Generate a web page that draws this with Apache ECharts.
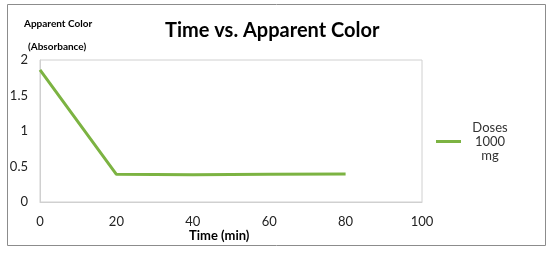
<!DOCTYPE html>
<html>
<head>
<meta charset="utf-8">
<script src="https://cdn.jsdelivr.net/npm/echarts@6/dist/echarts.min.js"></script>
<style>
  html, body { margin: 0; padding: 0; background: #fff; }
  #chart { width: 550px; height: 253px; }
</style>
</head>
<body>
<div id="chart"></div>
<script>
// data
const timeMin = [0, 20, 40, 60, 80];
const absorbance = [1.86, 0.39, 0.385, 0.39, 0.395];
const seriesName = 'Doses 1000 mg';

const myChart = echarts.init(document.getElementById('chart'));
const font = 'Lato, "Open Sans", sans-serif';

const option = {
  animation: false,
  textStyle: { fontFamily: font },
  graphic: [
    {
      type: 'rect',
      shape: { x: 7.5, y: 4.5, width: 538, height: 241 },
      style: { fill: 'none', stroke: '#8c8c8c', lineWidth: 1 }
    },
    {
      type: 'text', left: 24, top: 19,
      style: { text: 'Apparent Color', font: 'bold 10px ' + font, fill: '#000' }
    },
    {
      type: 'text', left: 28, top: 42,
      style: { text: '(Absorbance)', font: 'bold 10px ' + font, fill: '#000' }
    },
    {
      type: 'text', left: 189, top: 229,
      style: { text: 'Time (min)', font: 'bold 13px ' + font, fill: '#000' }
    }
  ],
  title: {
    text: 'Time vs. Apparent Color',
    left: 160, top: 16,
    textStyle: { fontSize: 20, fontWeight: 'bold', color: '#000', fontFamily: font }
  },
  grid: {
    left: 40, right: 128, top: 60, bottom: 51,
    outerBoundsMode: 'none',
    show: true, borderColor: '#d0d0d0', borderWidth: 1
  },
  legend: {
    left: 431, top: 116,
    itemWidth: 25, itemHeight: 3, itemGap: 5,
    icon: 'rect',
    formatter: () => '{a|Doses}\n{a|1000}\n{a|mg}',
    textStyle: {
      rich: { a: { width: 48, align: 'center', fontSize: 13, lineHeight: 14, color: '#333' } }
    },
    data: [seriesName]
  },
  xAxis: {
    type: 'value', min: 0, max: 100, interval: 20,
    axisLine: { show: true, lineStyle: { color: '#d0d0d0' } },
    axisTick: { show: false },
    splitLine: { show: false },
    axisLabel: { fontSize: 13, color: '#222', margin: 13 }
  },
  yAxis: {
    type: 'value', min: 0, max: 2, interval: 0.5,
    axisLine: { show: true, lineStyle: { color: '#d0d0d0' } },
    axisTick: { show: false },
    splitLine: { show: false },
    axisLabel: { fontSize: 13, color: '#222', margin: 12 }
  },
  series: [{
    name: seriesName,
    type: 'line',
    data: timeMin.map((t, i) => [t, absorbance[i]]),
    symbol: 'none',
    lineStyle: { color: '#7cb342', width: 3 },
    itemStyle: { color: '#7cb342' }
  }]
};
myChart.setOption(option);
</script>
</body>
</html>
